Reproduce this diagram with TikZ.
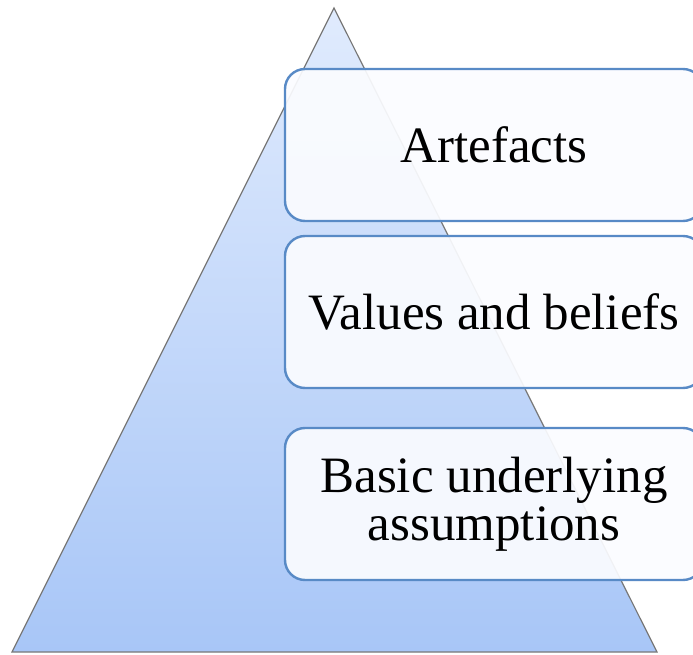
\documentclass[tikz,border=0pt]{standalone}
\usepackage{fontspec}
\setmainfont{Liberation Serif}
\definecolor{tritop}{RGB}{224,235,253}
\definecolor{tribot}{RGB}{168,198,247}
\definecolor{trigrey}{RGB}{120,120,120}
\definecolor{boxblue}{RGB}{88,138,198}
\definecolor{boxfill}{RGB}{251,252,255}
\begin{document}
\begin{tikzpicture}[x=1pt,y=-1pt,
  layerbox/.style={draw=boxblue, line width=2.4pt, rounded corners=20pt,
    fill=boxfill, fill opacity=0.92, text opacity=1,
    minimum width=418pt, minimum height=152pt, align=center,
    font=\fontsize{51}{48}\selectfont, inner sep=0pt}]
\useasboundingbox (0,0) rectangle (693,655);
\clip (0,0) rectangle (693,655);
\shade[top color=tritop, bottom color=tribot, draw=trigrey, line width=1.2pt]
  (334,8) -- (657,652) -- (12,652) -- cycle;
\node[layerbox] (art) at (494,145) {Artefacts};
\node[layerbox] (val) at (494,312) {Values and beliefs};
\node[layerbox] (bas) at (494,504) {Basic underlying\\assumptions};
\end{tikzpicture}
\end{document}
